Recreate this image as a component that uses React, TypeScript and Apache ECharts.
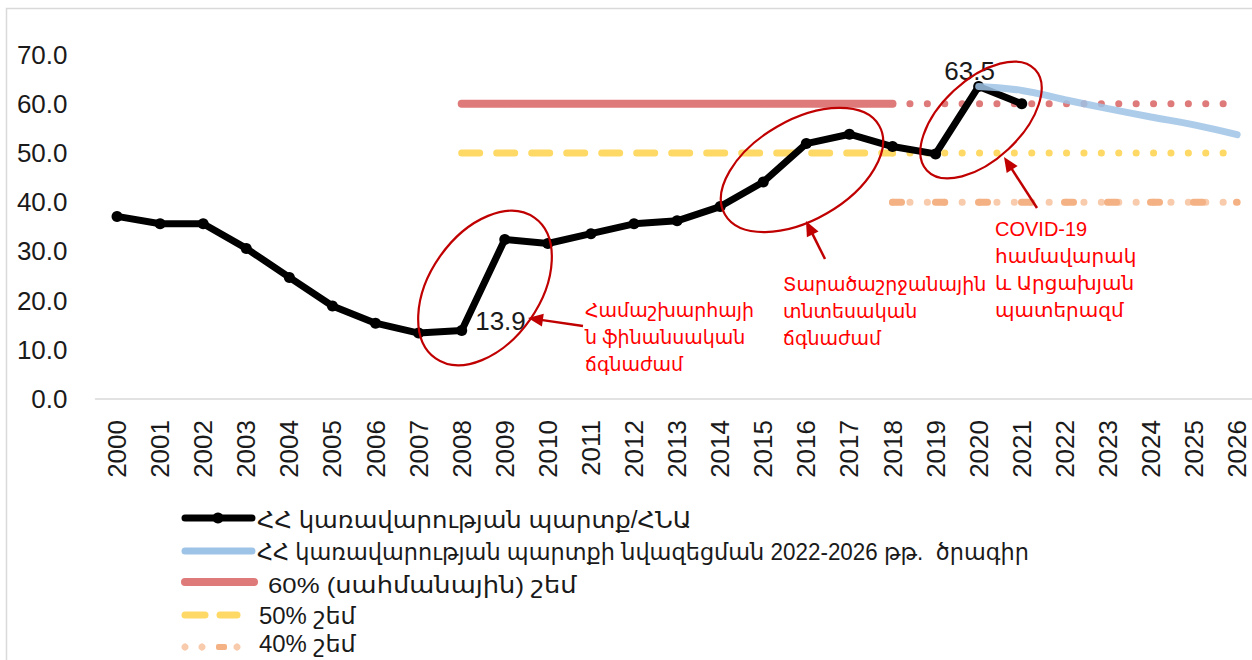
import React, { useEffect, useRef } from "react";
import * as echarts from "echarts";

const years = ["2000","2001","2002","2003","2004","2005","2006","2007","2008","2009","2010","2011","2012","2013","2014","2015","2016","2017","2018","2019","2020","2021","2022","2023","2024","2025","2026"];

// Government debt / GDP, %
const debtToGdp = [37.1, 35.6, 35.6, 30.6, 24.7, 18.9, 15.4, 13.4, 13.9, 32.4, 31.6, 33.6, 35.6, 36.2, 39.1, 44.1, 51.9, 53.8, 51.3, 49.8, 63.5, 60.0];
// Debt reduction programme 2022-2026
const programme = [null, null, null, null, null, null, null, null, null, null, null, null, null, null, null, null, null, null, null, null, 63.5, 62.7, 60.8, 59.0, 57.3, 55.7, 53.7];

const limit60Past = [["2008", 60], ["2018", 60]];
const limit60Future = [["2018", 60], ["2026", 60]];
const limit50Past = [["2008", 50], ["2018", 50]];
const limit50Future = [["2018", 50], ["2026", 50]];
const limit40Future = [["2018", 40], ["2026", 40]];

const labelledYears = ["2008", "2020"];

const legendNames = [
  "ՀՀ կառավարության պարտք/ՀՆԱ",
  "ՀՀ կառավարության պարտքի նվազեցման 2022-2026 թթ.  ծրագիր",
  "60% (սահմանային) շեմ",
  "50% շեմ",
  "40% շեմ",
];

const annotations = [
  "Համաշխարհայի\nն ֆինանսական\nճգնաժամ",
  "Տարածաշրջանային\nտնտեսական\nճգնաժամ",
  "COVID-19\nհամավարակ\nև Արցախյան\nպատերազմ",
];

const FONT = "'Liberation Sans', 'DejaVu Sans', Arial, sans-serif";
const TXT = "#1a1a1a";
const RED_LINE = "#df7a7a";
const YELLOW = "#ffd966";
const BLUE = "#9dc3e6";
const PEACH_LIGHT = "#f8cbad";
const PEACH_DARK = "#f4b183";
const DARK_RED = "#c00000";
const ANN_RED = "#ff0000";

function arrow(x1: number, y1: number, x2: number, y2: number) {
  const dx = x2 - x1, dy = y2 - y1;
  const len = Math.hypot(dx, dy);
  const ux = dx / len, uy = dy / len;
  const headL = 15, headW = 6.5;
  const bx = x2 - ux * headL, by = y2 - uy * headL;
  const px = -uy, py = ux;
  return [
    { type: "line", shape: { x1, y1, x2: bx + ux * 2, y2: by + uy * 2 }, style: { stroke: DARK_RED, lineWidth: 2.5 }, z: 20 },
    { type: "polygon", shape: { points: [[x2, y2], [bx + px * headW, by + py * headW], [bx - px * headW, by - py * headW]] }, style: { fill: DARK_RED }, z: 20 },
  ];
}

function ellipse(cx: number, cy: number, rx: number, ry: number, deg: number) {
  return {
    type: "ellipse",
    x: cx, y: cy,
    rotation: (deg * Math.PI) / 180,
    shape: { cx: 0, cy: 0, rx, ry },
    style: { fill: "none", stroke: DARK_RED, lineWidth: 2.2 },
    z: 20,
  };
}

function annText(x: number, y: number, text: string, size: number) {
  return {
    type: "text", x, y, z: 20,
    style: { text, fill: ANN_RED, font: `${size}px ${FONT}`, lineHeight: 27, verticalAlign: "top", align: "left" },
  };
}

function legendItems() {
  const items: any[] = [];
  const rows = [518, 551, 582, 615, 647];
  const textY = [520, 552, 585, 616, 644];
  const tx = [257, 257, 268, 259, 259];
  const sx = [1.06, 0.975, 1.12, 1.04, 1.04];
  // row 1
  items.push({ type: "line", shape: { x1: 185, y1: rows[0], x2: 252, y2: rows[0] }, style: { stroke: "#000", lineWidth: 7, lineCap: "round" } });
  items.push({ type: "circle", shape: { cx: 218, cy: rows[0], r: 5.5 }, style: { fill: "#000" } });
  // row 2
  items.push({ type: "line", shape: { x1: 185, y1: rows[1], x2: 252, y2: rows[1] }, style: { stroke: BLUE, lineWidth: 7, lineCap: "round" } });
  // row 3
  items.push({ type: "line", shape: { x1: 185, y1: rows[2], x2: 254, y2: rows[2] }, style: { stroke: RED_LINE, lineWidth: 8, lineCap: "round" } });
  // row 4
  items.push({ type: "line", shape: { x1: 185, y1: rows[3], x2: 205, y2: rows[3] }, style: { stroke: YELLOW, lineWidth: 7, lineCap: "round" } });
  items.push({ type: "line", shape: { x1: 220, y1: rows[3], x2: 237, y2: rows[3] }, style: { stroke: YELLOW, lineWidth: 7, lineCap: "round" } });
  // row 5
  [185, 202, 237].forEach((cx) => items.push({ type: "circle", shape: { cx, cy: rows[4], r: 3.6 }, style: { fill: PEACH_LIGHT } }));
  items.push({ type: "rect", shape: { x: 216, y: rows[4] - 3, width: 11, height: 6, r: 2 }, style: { fill: PEACH_DARK } });
  legendNames.forEach((name, i) => {
    items.push({ type: "text", x: tx[i], y: textY[i], scaleX: sx[i], style: { text: name, fill: TXT, font: `23px ${FONT}`, verticalAlign: "middle", align: "left" } });
  });
  return items;
}

export default function App() {
  const ref = useRef<HTMLDivElement>(null);
  useEffect(() => {
    if (!ref.current) return;
    const chart = echarts.init(ref.current, undefined, { renderer: "svg" });
    const chartW = 1262;
    const debtData = debtToGdp.map((v, i) => {
      if (!labelledYears.includes(years[i])) return v;
      const isTop = years[i] === "2020";
      return {
        value: v,
        label: isTop
          ? { show: true, position: "top", distance: 0, offset: [-9, 3], fontSize: 26, color: TXT, fontFamily: FONT, formatter: (p: any) => p.value.toFixed(1) }
          : { show: true, position: "right", distance: 8, offset: [0, -10], fontSize: 26, color: TXT, fontFamily: FONT, formatter: (p: any) => p.value.toFixed(1) },
      };
    });
    const flat = (name: string, data: any, color: string, width: number, type: any) => ({
      name, type: "line", data, symbol: "none", silent: true,
      lineStyle: { color, width, type, cap: "round" },
      z: 2,
    });
    chart.setOption({
      animation: false,
      textStyle: { fontFamily: FONT },
      grid: { left: 95.5, right: chartW - 1258.7, top: 54.5, bottom: 660 - 399, containLabel: false },
      xAxis: {
        type: "category", data: years, boundaryGap: true,
        axisLine: { lineStyle: { color: "#d9d9d9", width: 1.5 } },
        axisTick: { show: false },
        axisLabel: { rotate: 90, fontSize: 26, color: TXT, margin: 21, interval: 0, fontFamily: FONT },
      },
      yAxis: {
        type: "value", min: 0, max: 70, interval: 10,
        axisLine: { show: false }, axisTick: { show: false }, splitLine: { show: false },
        axisLabel: { formatter: (v: number) => v.toFixed(1), fontSize: 26, color: TXT, margin: 28, fontFamily: FONT },
      },
      series: [
        flat("60a", limit60Past, RED_LINE, 8, "solid"),
        flat("60b", limit60Future, RED_LINE, 7, [0.1, 17.3]),
        flat("50a", limit50Past, YELLOW, 7, [18, 17]),
        flat("50b", limit50Future, YELLOW, 7, [0.1, 17.3]),
        flat("40a", limit40Future, PEACH_LIGHT, 7, [0.1, 17.3]),
        flat("40b", limit40Future, PEACH_DARK, 7, [9, 34]),
        {
          name: legendNames[0], type: "line", data: debtData,
          symbol: "circle", symbolSize: 11,
          itemStyle: { color: "#000" },
          lineStyle: { color: "#000", width: 7 },
          z: 5,
        },
        {
          name: legendNames[1], type: "line", data: programme, smooth: true,
          symbol: "none",
          lineStyle: { color: BLUE, width: 7, opacity: 0.85, cap: "round" },
          z: 6,
        },
      ],
      graphic: [
        { type: "rect", shape: { x: 6.5, y: 8.5, width: 1300, height: 700 }, style: { fill: "none", stroke: "#d9d9d9", lineWidth: 1.5 }, z: 0, silent: true },
        ellipse(485, 288, 86, 55, 55),
        ellipse(802, 170, 89, 50, 30),
        ellipse(981, 120, 74, 40, 43),
        ...arrow(583, 326, 528, 318),
        ...arrow(825, 259, 806, 221),
        ...arrow(1037, 208, 1004, 157),
        annText(585, 297, annotations[0], 19),
        annText(783, 271, annotations[1], 19),
        annText(995, 215, annotations[2], 20),
        ...legendItems(),
      ],
    });
    return () => chart.dispose();
  }, []);
  return (
    <div style={{ position: "fixed", left: 0, top: 0, width: 1252, height: 660, overflow: "hidden", background: "#fff" }}>
      <div ref={ref} style={{ width: 1262, height: 660 }} />
    </div>
  );
}
